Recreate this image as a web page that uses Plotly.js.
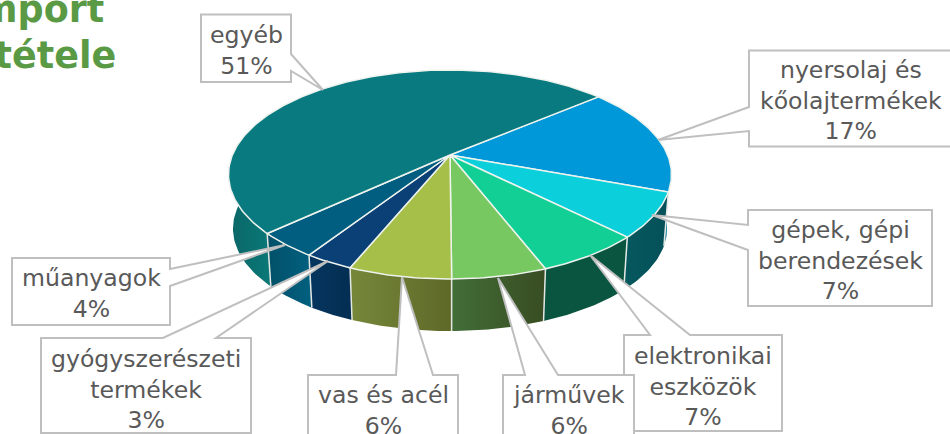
<!DOCTYPE html>
<html><head><meta charset="utf-8">
<script src="https://cdn.plot.ly/plotly-3.0.1.min.js"></script>
<style>html,body{margin:0;padding:0;background:#fff;overflow:hidden}#c{width:950px;height:434px}</style>
</head><body><div id="c"></div>
<script>
// Data, clockwise from the top-right boundary
const categories = ['nyersolaj és<br>kőolajtermékek','gépek, gépi<br>berendezések','elektronikai<br>eszközök','járművek','vas és acél','gyógyszerészeti<br>termékek','műanyagok','egyéb'];
const shares = [16.75, 6.9, 6.6, 5.8, 6.3, 3.0, 3.9, 50.7];
const percentLabels = ['17%','7%','7%','6%','6%','3%','4%','51%'];
const titleLines = ['import','összetétele'];

// Styles
const topColors = ['#0098D8','#0BCFDA','#12CF96','#78C862','#A5BF48','#0B4077','#025E80','#087A80'];
const wallLeft  = ['#05505A','#05585E','#0A5540','#426E38','#76883A','#05355F','#025068','#0A6666'];
const wallRight = ['#0088C0','#05505A','#0A5540','#384C22','#5E6828','#042E52','#026080','#0A7878'];

// Pie projection (tilted disc with perspective)
const cx = 450, cy = 155, A = 100.9, B = 217.6, K = -0.1866, START = -40.2;
const BOTTOM_SCALE = 0.98, DEPTH = 54.5, WALL_MIN = -6, WALL_MAX = 186;
function project(deg, lower) {
  const t = deg * Math.PI / 180, c = Math.cos(t), s = Math.sin(t), d = 1 + K * s;
  const f = lower ? BOTTOM_SCALE : 1;
  return [cx + f * B * c / d, cy + f * A * s / d + (lower ? DEPTH : 0)];
}
function arc(a0, a1, lower) {
  const n = Math.max(2, Math.ceil(Math.abs(a1 - a0))), pts = [];
  for (let i = 0; i <= n; i++) pts.push(project(a0 + (a1 - a0) * i / n, lower));
  return pts;
}

const total = shares.reduce((a, b) => a + b, 0);
const bounds = [START];
shares.forEach((v, i) => bounds.push(bounds[i] + v / total * 360));

const traces = [];
const base = {type:'scatter', mode:'lines', hoverinfo:'skip', showlegend:false};

// side walls (front-facing part of each slice only)
shares.forEach((v, i) => {
  const a0 = Math.max(bounds[i], WALL_MIN), a1 = Math.min(bounds[i+1], WALL_MAX);
  if (a1 <= a0) return;
  const pts = arc(a0, a1, false).concat(arc(a1, a0, true));
  pts.push(pts[0]);
  traces.push(Object.assign({}, base, {
    x: pts.map(p => p[0]), y: pts.map(p => p[1]),
    fill:'toself', line:{width:0, color:wallLeft[i]},
    fillgradient:{type:'horizontal', colorscale:[[0,wallLeft[i]],[1,wallRight[i]]]}
  }));
});
// wall dividers
const dx = [], dy = [];
bounds.slice(1, -1).forEach(b => {
  const p = project(b, false), q = project(b, true);
  dx.push(p[0], q[0], null); dy.push(p[1], q[1], null);
});
traces.push(Object.assign({}, base, {x:dx, y:dy, line:{color:'#E4E8E4', width:1.5}}));
// top faces
shares.forEach((v, i) => {
  const pts = [[cx, cy]].concat(arc(bounds[i], bounds[i+1], false));
  pts.push([cx, cy]);
  traces.push(Object.assign({}, base, {
    x: pts.map(p => p[0]), y: pts.map(p => p[1]),
    fill:'toself', fillcolor:topColors[i], line:{color:'#EEF3EE', width:1.5}
  }));
});

// Callout boxes: pixel-space outlines for the labels
const callouts = [
  {poly:[[749,50.5],[955,50.5],[955,146.5],[749,146.5],[749,131],[658,140],[749,107]], at:[851,100.5]},
  {poly:[[748,210],[932,210],[932,306],[748,306],[748,250],[652,215],[748,225]], at:[840,260]},
  {poly:[[624,335],[650,335],[590,255],[690,335],[782,335],[782,431],[624,431]], at:[703,386]},
  {poly:[[503,375],[525,375],[498,278],[558,375],[634,375],[634,445],[503,445]], at:[569,410]},
  {poly:[[308,375],[396,375],[402,277],[433,375],[458,375],[458,445],[308,445]], at:[383,410]},
  {poly:[[41,338],[163,338],[328,261],[216,338],[251,338],[251,433],[41,433]], at:[146,389]},
  {poly:[[12,258],[170,258],[170,269],[285,245],[170,286],[170,325],[12,325]], at:[91,293]},
  {poly:[[201,14.5],[291,14.5],[291,54],[323,90],[291,71],[291,82],[201,82]], at:[246,50]}
];
const drawOrder = [0,1,2,3,4,5,6,7];
const shapes = drawOrder.map(i => ({
  type:'path', xref:'x', yref:'y', layer:'above',
  path:'M' + callouts[i].poly.map(p => p.join(',')).join('L') + 'Z',
  fillcolor:'#FFFFFF', line:{color:'#BFBFBF', width:2}
}));
const annotations = drawOrder.map(i => ({
  xref:'x', yref:'y', x:callouts[i].at[0], y:callouts[i].at[1],
  text:categories[i] + '<br>' + percentLabels[i], showarrow:false, align:'center',
  xanchor:'center', yanchor:'middle',
  font:{family:'"DejaVu Sans", sans-serif', size:23.6, color:'#595959'}
}));
// Cropped title at the top-left
[[106,22],[118,68]].forEach((pos, i) => annotations.push({
  xref:'x', yref:'y', x:pos[0], y:pos[1], text:'<b>' + titleLines[i] + '</b>', showarrow:false,
  xanchor:'right', yanchor:'bottom', yshift:-11, align:'right',
  font:{family:'"DejaVu Sans", sans-serif', size:36.5, color:'#5B9A45'}
}));

Plotly.newPlot('c', traces, {
  width:950, height:434, margin:{l:0,r:0,t:0,b:0},
  paper_bgcolor:'#fff', plot_bgcolor:'#fff', showlegend:false,
  xaxis:{range:[0,950], visible:false, fixedrange:true},
  yaxis:{range:[434,0], visible:false, fixedrange:true},
  shapes, annotations
}, {displayModeBar:false, staticPlot:true});
</script></body></html>
